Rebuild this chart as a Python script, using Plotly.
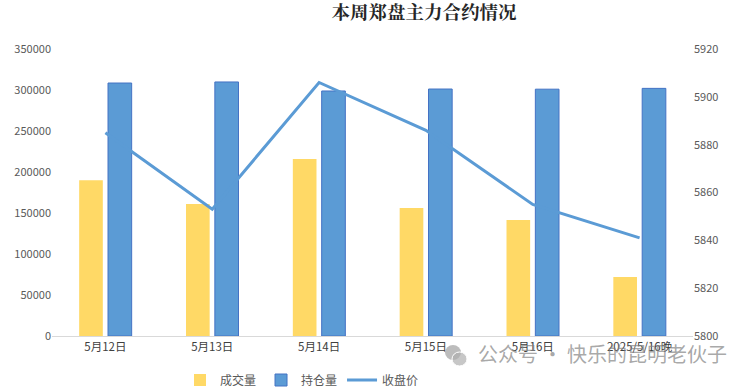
import plotly.graph_objects as go

categories = ["5月12日", "5月13日", "5月14日", "5月15日", "5月16日", "2025/5/16晚"]
volume = [190000, 161000, 216000, 156000, 141500, 72000]
open_interest = [308500, 309800, 298800, 301200, 301000, 302000]
close_price = [5885, 5853, 5906, 5886, 5855, 5841]

W, H = 738, 391
L, R, T, B = 52, 738 - 693, 49, 391 - 336
PW, PH = W - L - R, H - T - B

def px(x):  # page pixel -> paper x
    return (x - L) / PW

def py(y):  # page pixel -> paper y
    return (H - B - y) / PH

fig = go.Figure()
fig.add_trace(go.Bar(name="成交量", x=categories, y=volume,
                     marker=dict(color="#FFD966", line=dict(width=0))))
fig.add_trace(go.Bar(name="持仓量", x=categories, y=open_interest,
                     marker=dict(color="#5B9BD5", line=dict(color="#4472C4", width=1))))
fig.add_trace(go.Scatter(name="收盘价", x=categories, y=close_price, yaxis="y2",
                         mode="lines", line=dict(color="#5B9BD5", width=3)))

fig.update_layout(
    width=W, height=H,
    margin=dict(l=L, r=R, t=T, b=B, autoexpand=False),
    paper_bgcolor="white", plot_bgcolor="white",
    barmode="group", bargap=0.46, bargroupgap=0.18,
    font=dict(family="Noto Sans CJK SC, sans-serif", size=11, color="#595959"),
    title=dict(text="<b>本周郑盘主力合约情况</b>", x=424 / W, xanchor="center",
               y=1 - 13 / H, yanchor="middle",
               font=dict(family="Noto Serif CJK SC, Noto Sans CJK SC, serif", size=18.5, color="#262626")),
    xaxis=dict(showgrid=False, showline=True, linecolor="#D9D9D9", linewidth=1,
               ticks="", tickfont=dict(size=11.5, color="#404040"), automargin=False),
    yaxis=dict(range=[0, 350000], dtick=50000, showgrid=False, zeroline=False,
               showline=False, ticks="", tickformat="d", automargin=False,
               tickfont=dict(size=11, color="#595959")),
    yaxis2=dict(range=[5800, 5920], dtick=20, overlaying="y", side="right",
                showgrid=False, zeroline=False, showline=False, ticks="", automargin=False,
                tickfont=dict(size=11, color="#595959")),
    legend=dict(orientation="h", x=px(302), xanchor="center", y=py(380), yanchor="middle",
                font=dict(size=12, color="#595959"), itemwidth=30,
                traceorder="normal", tracegroupgap=0, bgcolor="rgba(0,0,0,0)"),
    showlegend=True,
)

fig.add_annotation(text="公众号 · 快乐的昆明老伙子", xref="paper", yref="paper",
                   x=px(729), xanchor="right", y=py(353), yanchor="middle",
                   showarrow=False, font=dict(size=20, color="rgba(130,130,130,0.7)"))
# WeChat-like icon
fig.add_shape(type="circle", xref="paper", yref="paper",
              x0=px(445), x1=px(461), y0=py(360), y1=py(345),
              fillcolor="rgba(160,160,160,0.7)", line=dict(width=0))
fig.add_shape(type="circle", xref="paper", yref="paper",
              x0=px(452), x1=px(467), y0=py(366), y1=py(352),
              fillcolor="rgba(175,175,175,0.7)", line=dict(color="white", width=1))

fig.write_html("out.html", config={"displayModeBar": False},
               post_script="document.body.style.margin='0';document.body.style.overflow='hidden';")
